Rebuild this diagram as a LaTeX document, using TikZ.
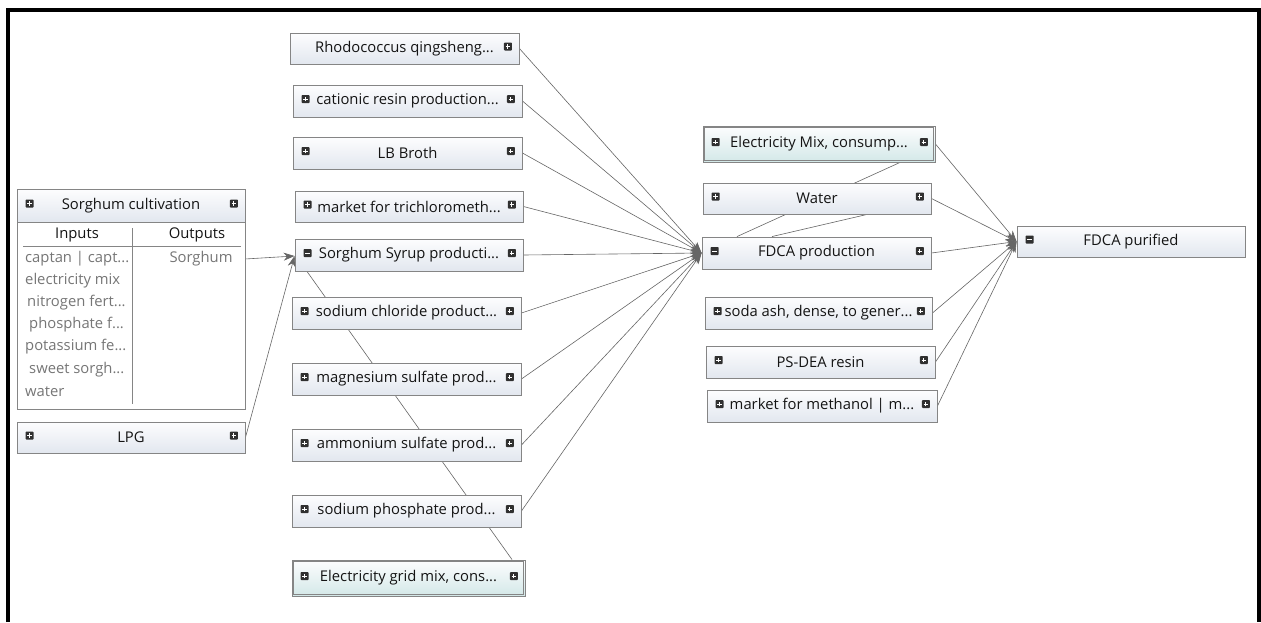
\documentclass[tikz,border=0pt]{standalone}
\usepackage{fontspec}
\setmainfont{Open Sans}
\usetikzlibrary{arrows.meta,calc}
\definecolor{boxline}{HTML}{858585}
\definecolor{boxtop}{HTML}{FDFDFE}
\definecolor{boxbot}{HTML}{E2E7EF}
\definecolor{tealbot}{HTML}{D3E8E8}
\definecolor{txt}{HTML}{141414}
\definecolor{greytxt}{HTML}{767676}
\definecolor{icon}{HTML}{303030}
\definecolor{wire}{HTML}{666666}
\pgfdeclarelayer{paper}
\pgfdeclarelayer{background}
\pgfsetlayers{paper,background,main}
\newcommand\fs{\fontsize{14.8}{17}\selectfont}
\newcommand\mkbox[7][box]{\node[#1,minimum width={(#4-#2)*1pt},minimum height={(#5-#3)*1pt}] (#6) at ({(#2+#4)/2},{(#3+#5)/2}) {#7};}
\newcommand\inner[1]{\draw[boxline,line width=0.7pt] ([shift={(2.2pt,-2.2pt)}]#1.north west) rectangle ([shift={(-2.2pt,2.2pt)}]#1.south east);}
\newcommand\lic[2][picon]{\node[#1] (#2-l) at ([xshift=13pt,yshift=2pt]#2.west) {};}
\newcommand\ric[2][picon]{\node[#1] (#2-r) at ([xshift=-11.5pt,yshift=2pt]#2.east) {};}
\begin{document}
\begin{tikzpicture}[x=1pt,y=-1pt,
  box/.style={draw=boxline,line width=0.9pt,top color=boxtop,bottom color=boxbot,inner sep=0pt,font=\fs,text=txt},
  dbox/.style={box,bottom color=tealbot},
  picon/.style={fill=icon,rounded corners=0.8pt,inner sep=0pt,minimum size=8pt,
    path picture={\draw[white,line width=1pt]
      ([xshift=-2.3pt]path picture bounding box.center) -- ([xshift=2.3pt]path picture bounding box.center)
      ([yshift=-2.3pt]path picture bounding box.center) -- ([yshift=2.3pt]path picture bounding box.center);}},
  micon/.style={fill=icon,rounded corners=0.8pt,inner sep=0pt,minimum size=8pt,
    path picture={\draw[white,line width=1pt]
      ([xshift=-2.3pt]path picture bounding box.center) -- ([xshift=2.3pt]path picture bounding box.center);}},
  wirel/.style={draw=wire,line width=0.6pt},
  arr/.style={wirel,-{Stealth[length=11pt,width=8pt]}},
  cell/.style={font=\fs,inner sep=0pt,text=greytxt,anchor=west},
]
\useasboundingbox (0,0) rectangle (1261,622);
\begin{pgfonlayer}{paper}
\fill[white] (0,0) rectangle (1261,622);
\end{pgfonlayer}
% frame
\draw[line width=4pt] (8,622) -- (8,10) -- (1259,10) -- (1259,622);

% Sorghum cultivation table
\node[draw=boxline,line width=0.9pt,fill=white,inner sep=0pt,minimum width=228pt,minimum height=220pt] (sorg) at (131,299) {};
\mkbox{17}{189}{245}{222}{sorghead}{Sorghum cultivation}
\lic{sorghead}\ric{sorghead}
\draw[boxline,line width=0.8pt] (23,246) -- (241,246);
\draw[boxline,line width=0.8pt] (132,228) -- (132,404);
\node[font=\fs,inner sep=0pt,text=txt] (inp) at (77,235) {Inputs};
\node[font=\fs,inner sep=0pt,text=txt] (outp) at (197,235) {Outputs};
\node[cell] (i1) at (25,259) {captan | capt...};
\node[cell] (i2) at (25,281) {electricity mix};
\node[cell] (i3) at (27,303) {nitrogen fert...};
\node[cell] (i4) at (29,325) {phosphate f...};
\node[cell] (i5) at (25,347) {potassium fe...};
\node[cell] (i6) at (29,370) {sweet sorgh...};
\node[cell] (i7) at (25,392) {water};
\node[font=\fs,inner sep=0pt,text=greytxt] (o1) at (201,259) {Sorghum};
\coordinate (sorgout) at (245,259);

\mkbox{17}{422}{245}{453}{lpg}{LPG}
\lic{lpg}\ric{lpg}

% middle column
\mkbox{290}{33}{519}{64}{rhodo}{Rhodococcus qingsheng...\hspace{8pt}}
\ric{rhodo}
\mkbox{293}{85}{522}{117}{cation}{cationic resin production...}
\lic{cation}\ric{cation}
\mkbox{293}{137}{522}{169}{lb}{LB Broth}
\lic{lb}\ric{lb}
\mkbox{295}{191}{523}{222}{trich}{market for trichlorometh...}
\lic{trich}\ric{trich}
\mkbox{295}{239}{523}{271}{syrup}{Sorghum Syrup producti...}
\lic[micon]{syrup}\ric{syrup}
\mkbox{292}{297}{521}{329}{nacl}{sodium chloride product...}
\lic{nacl}\ric{nacl}
\mkbox{292}{363}{521}{395}{mgso}{magnesium sulfate prod...}
\lic{mgso}\ric{mgso}
\mkbox{292}{429}{521}{461}{nhso}{ammonium sulfate prod...}
\lic{nhso}\ric{nhso}
\mkbox{292}{495}{521}{527}{naph}{sodium phosphate prod...}
\lic{naph}\ric{naph}
\mkbox[dbox]{292}{560}{525}{596}{elgrid}{Electricity grid mix, cons...}
\inner{elgrid}
\lic{elgrid}\ric{elgrid}

% right column
\mkbox[dbox]{703}{126}{935}{162}{elmix}{Electricity Mix, consump...}
\inner{elmix}
\lic{elmix}\ric{elmix}
\mkbox{703}{183}{931}{214}{water}{Water}
\lic{water}\ric{water}
\mkbox{702}{237}{931}{269}{fdca}{FDCA production}
\lic[micon]{fdca}\ric{fdca}
\mkbox{705}{297}{932}{329}{soda}{soda ash, dense, to gener...}
\lic{soda}\ric{soda}
\mkbox{706}{346}{935}{378}{psdea}{PS-DEA resin}
\lic{psdea}\ric{psdea}
\mkbox{707}{390}{937}{422}{meoh}{market for methanol | m...}
\lic{meoh}\ric{meoh}

\mkbox{1017}{226}{1245}{257}{pur}{FDCA purified}
\lic[micon]{pur}

\begin{pgfonlayer}{background}
  % into Sorghum Syrup production
  \draw[arr] (sorgout) -- ([yshift=-1pt]syrup.west);
  \draw[arr] (lpg.east) -- ([yshift=-1pt]syrup.west);
  \draw[wirel] ([xshift=103.5pt]elgrid.north) -- ([xshift=-102pt]syrup.south);
  % into FDCA production
  \foreach \n in {rhodo,cation,lb,trich,syrup,nacl,mgso,nhso,naph}
    \draw[arr] (\n.east) -- (fdca.west);
  \draw[wirel] ([xshift=81pt]elmix.south) -- ([xshift=-79.5pt]fdca.north);
  \draw[wirel] ([xshift=50pt]water.south) -- ([xshift=-44.5pt]fdca.north);
  % into FDCA purified
  \foreach \n in {elmix,water,fdca,soda,psdea,meoh}
    \draw[arr] (\n.east) -- (pur.west);
\end{pgfonlayer}
\end{tikzpicture}
\end{document}
